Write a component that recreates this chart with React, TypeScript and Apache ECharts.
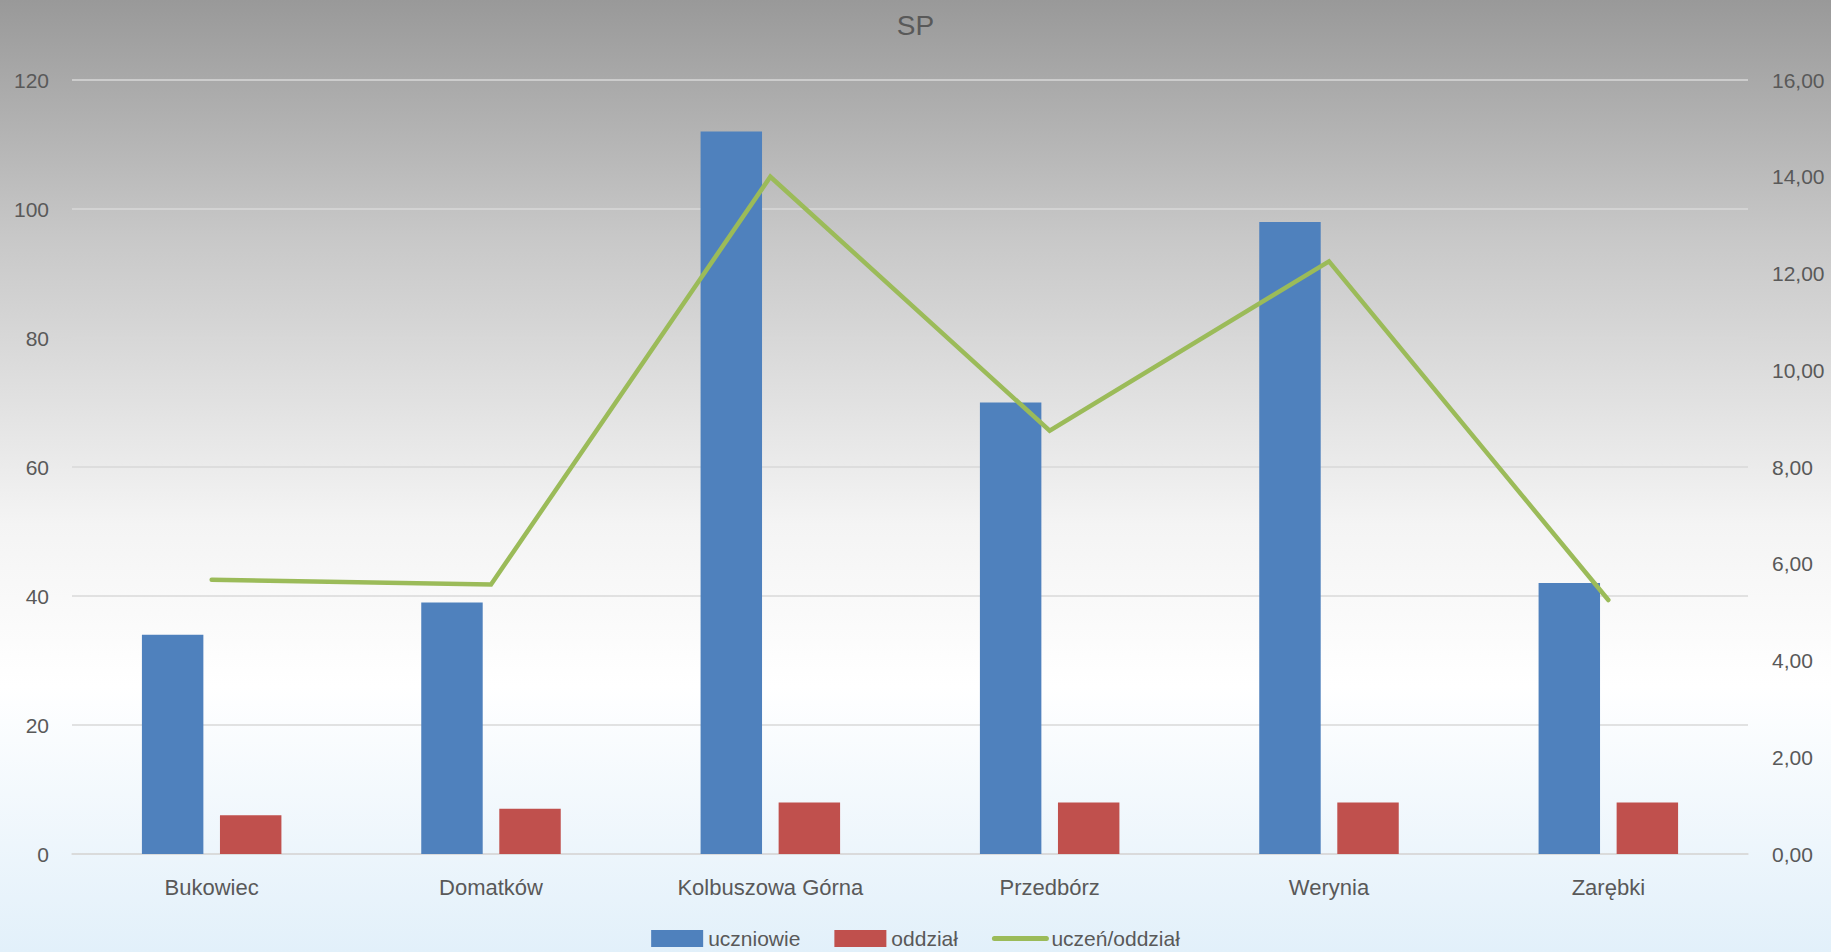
import React, { useEffect, useRef } from "react";
import * as echarts from "echarts";

const categories = ["Bukowiec", "Domatków", "Kolbuszowa Górna", "Przedbórz", "Werynia", "Zarębki"];
const uczniowie = [34, 39, 112, 70, 98, 42];
const oddzial = [6, 7, 8, 8, 8, 8];
const uczenNaOddzial = [5.67, 5.57, 14.0, 8.75, 12.25, 5.25];

const FONT = "'Liberation Sans', Arial, sans-serif";
const TXT = "#595959";

export default function App() {
  const ref = useRef<HTMLDivElement>(null);
  useEffect(() => {
    if (!ref.current) return;
    const chart = echarts.init(ref.current, undefined, { renderer: "svg" });
    chart.setOption({
      animation: false,
      backgroundColor: new echarts.graphic.LinearGradient(0, 0, 0, 1, [
        { offset: 0, color: "#999999" },
        { offset: 0.25, color: "#c8c8c8" },
        { offset: 0.55, color: "#f4f4f4" },
        { offset: 0.72, color: "#ffffff" },
        { offset: 1, color: "#e2f0fa" },
      ]),
      textStyle: { fontFamily: FONT },
      title: {
        text: "SP",
        left: "center",
        top: 6,
        textStyle: { fontFamily: FONT, fontSize: 28, fontWeight: "normal", color: TXT },
      },
      legend: {
        bottom: -2,
        left: "center",
        itemWidth: 52,
        itemHeight: 17,
        itemGap: 34,
        textStyle: { fontFamily: FONT, fontSize: 21, color: TXT },
        data: [
          { name: "uczniowie", icon: "rect" },
          { name: "oddział", icon: "rect" },
          {
            name: "uczeń/oddział",
            itemStyle: { opacity: 0 },
            lineStyle: { width: 5, color: "#9bbb59", cap: "round" },
          },
        ],
      },
      grid: { left: 72, right: 83, top: 80, bottom: 98, containLabel: false },
      xAxis: {
        type: "category",
        data: categories,
        axisLine: { show: true, lineStyle: { color: "#d9d9d9", width: 1.5 } },
        axisTick: { show: false },
        axisLabel: { fontFamily: FONT, fontSize: 22, color: TXT, margin: 22 },
      },
      yAxis: [
        {
          type: "value",
          min: 0,
          max: 120,
          interval: 20,
          axisLine: { show: false },
          axisTick: { show: false },
          splitLine: { lineStyle: { color: "#d9d9d9", width: 1.5 } },
          axisLabel: { fontFamily: FONT, fontSize: 21, color: TXT, margin: 23 },
        },
        {
          type: "value",
          min: 0,
          max: 16,
          interval: 2,
          position: "right",
          axisLine: { show: false },
          axisTick: { show: false },
          splitLine: { show: false },
          axisLabel: {
            fontFamily: FONT,
            fontSize: 21,
            color: TXT,
            margin: 24,
            formatter: (v: number) => v.toFixed(2).replace(".", ","),
          },
        },
      ],
      series: [
        {
          name: "uczniowie",
          type: "bar",
          data: uczniowie,
          barWidth: "22%",
          barGap: "27%",
          itemStyle: { color: "#4f81bd" },
        },
        {
          name: "oddział",
          type: "bar",
          data: oddzial,
          barWidth: "22%",
          barGap: "27%",
          itemStyle: { color: "#c0504d" },
        },
        {
          name: "uczeń/oddział",
          type: "line",
          yAxisIndex: 1,
          data: uczenNaOddzial,
          symbol: "none",
          lineStyle: { color: "#9bbb59", width: 4.5, cap: "round", join: "miter" },
          itemStyle: { color: "#9bbb59" },
        },
      ],
    });
    return () => chart.dispose();
  }, []);
  return (
    <div
      ref={ref}
      style={{ position: "fixed", left: 0, top: 0, width: 1831, height: 952 }}
    />
  );
}
